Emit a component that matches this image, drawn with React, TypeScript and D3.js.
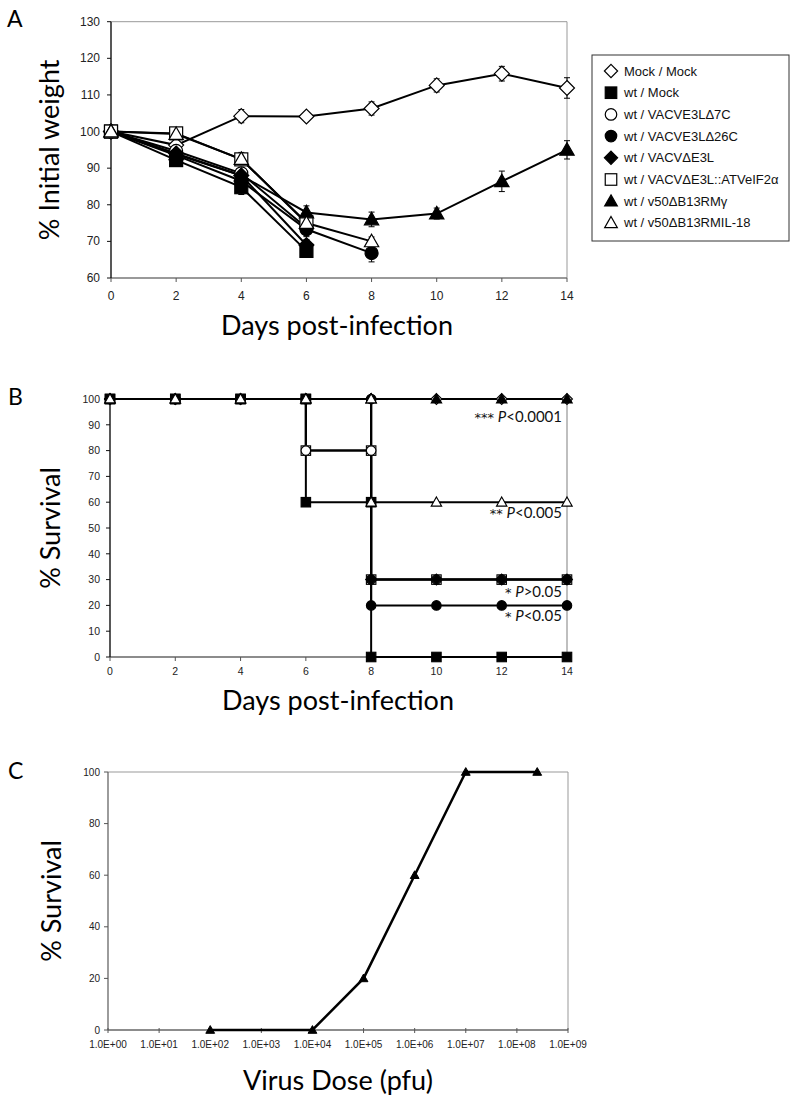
import React from "react";
import * as d3 from "d3";

// ---------- Data ----------
const DAYS = [0, 2, 4, 6, 8, 10, 12, 14];
const WEIGHT_TICKS = [60, 70, 80, 90, 100, 110, 120, 130];
const SURV_TICKS = [0, 10, 20, 30, 40, 50, 60, 70, 80, 90, 100];
const DOSE_TICKS = [1e0, 1e1, 1e2, 1e3, 1e4, 1e5, 1e6, 1e7, 1e8, 1e9];
const C_SURV_TICKS = [0, 20, 40, 60, 80, 100];

const SERIES_NAMES = [
  "Mock / Mock",
  "wt / Mock",
  "wt / VACVE3LΔ7C",
  "wt / VACVE3LΔ26C",
  "wt / VACVΔE3L",
  "wt / VACVΔE3L::ATVeIF2α",
  "wt / v50ΔB13RMγ",
  "wt / v50ΔB13RMIL-18",
];
const SERIES_SHAPES = ["diamond", "square", "circle", "circle", "diamond", "square", "triangle", "triangle"];
const SERIES_FILLED = [false, true, false, true, true, false, true, false];

// Panel A: % initial weight (mean) and error (SE), by day index
const mockW = [100, 96.3, 104.2, 104.1, 106.3, 112.6, 115.8, 111.9];
const mockWErr = [0, 1, 1.8, 1, 1.8, 1.8, 2, 2.8];
const wtMockW = [100, 92.2, 84.8, 67.4];
const wtMockWErr = [0, 1, 2, 1];
const e3l7cW = [100, 94.7, 88.6, 73.7];
const e3l7cWErr = [0, 1, 1.5, 1.5];
const e3l26cW = [100, 93.5, 86.5, 73.3, 66.8];
const e3l26cWErr = [0, 1, 1.5, 2, 2.4];
const dE3LW = [100, 94, 88, 69];
const dE3LWErr = [0, 1, 1.5, 1.5];
const atvW = [100, 99.5, 92.4, 75.2];
const atvWErr = [0, 1, 1.5, 1.5];
const rmgW = [100, 93.8, 88, 77.9, 76, 77.6, 86.4, 95];
const rmgWErr = [0, 1, 1.5, 1.8, 2, 1.5, 2.8, 2.5];
const il18W = [100, 99.3, 92.5, 75, 70];
const il18WErr = [0, 1, 1.8, 1.5, 1.2];

const WEIGHTS = [mockW, wtMockW, e3l7cW, e3l26cW, dE3LW, atvW, rmgW, il18W];
const WEIGHT_ERRS = [mockWErr, wtMockWErr, e3l7cWErr, e3l26cWErr, dE3LWErr, atvWErr, rmgWErr, il18WErr];

// Panel B: Kaplan-Meier survival steps
const mockSDays = [0, 2, 4, 6, 8, 10, 12, 14];
const mockS = [100, 100, 100, 100, 100, 100, 100, 100];
const wtMockSDays = [0, 2, 4, 6, 6, 8, 8, 10, 12, 14];
const wtMockS = [100, 100, 100, 100, 60, 60, 0, 0, 0, 0];
const e3l7cSDays = [0, 2, 4, 6, 6, 8, 8, 10, 12, 14];
const e3l7cS = [100, 100, 100, 100, 80, 80, 30, 30, 30, 30];
const e3l26cSDays = [0, 2, 4, 6, 8, 8, 10, 12, 14];
const e3l26cS = [100, 100, 100, 100, 100, 20, 20, 20, 20];
const dE3LSDays = [0, 2, 4, 6, 8, 8, 10, 12, 14];
const dE3LS = [100, 100, 100, 100, 100, 30, 30, 30, 30];
const atvSDays = [0, 2, 4, 6, 6, 8, 8, 10, 12, 14];
const atvS = [100, 100, 100, 100, 80, 80, 30, 30, 30, 30];
const rmgSDays = [0, 2, 4, 6, 8, 10, 12, 14];
const rmgS = [100, 100, 100, 100, 100, 100, 100, 100];
const il18SDays = [0, 2, 4, 6, 8, 8, 10, 12, 14];
const il18S = [100, 100, 100, 100, 100, 60, 60, 60, 60];

const SURV_DAYS = [mockSDays, wtMockSDays, e3l7cSDays, e3l26cSDays, dE3LSDays, atvSDays, rmgSDays, il18SDays];
const SURVS = [mockS, wtMockS, e3l7cS, e3l26cS, dE3LS, atvS, rmgS, il18S];
const B_DRAW_ORDER = [0, 5, 1, 2, 3, 4, 6, 7];

const P_LABELS = [
  { stars: "***", rel: "<0.0001" },
  { stars: "**", rel: "<0.005" },
  { stars: "*", rel: ">0.05" },
  { stars: "*", rel: "<0.05" },
];

// Panel C: dose response
const doses = [1e2, 1e4, 1e5, 1e6, 1e7, 2.5e8];
const doseSurv = [0, 0, 20, 60, 100, 100];

// ---------- Helpers ----------
const TITLE_FONT = "Lato, 'Open Sans', sans-serif";
const TICK_FONT = "'Liberation Sans', Arial, Helvetica, sans-serif";

function Marker({ shape, filled, x, y, s, sw = 1.2 }: any) {
  const h = s / 2;
  const fill = filled ? "#000" : "#fff";
  const common = { fill, stroke: "#000", strokeWidth: sw };
  if (shape === "square") return <rect x={x - h} y={y - h} width={s} height={s} {...common} />;
  if (shape === "circle") return <circle cx={x} cy={y} r={h} {...common} />;
  if (shape === "diamond") {
    const k = h * 1.15;
    return <path d={`M${x},${y - k}L${x + k},${y}L${x},${y + k}L${x - k},${y}Z`} {...common} />;
  }
  const k = h * 1.1;
  return <path d={`M${x},${y - k}L${x + k},${y + k * 0.75}L${x - k},${y + k * 0.75}Z`} {...common} />;
}

const fmtExp = (v: number) => {
  const e = Math.round(Math.log10(v));
  return `1.0E+${e < 10 ? "0" + e : e}`;
};

export default function App() {
  // Panel A scales
  const xA = d3.scaleLinear().domain([0, 14]).range([111, 567]);
  const yA = d3.scaleLinear().domain([60, 130]).range([278, 21.7]);
  // Panel B scales
  const xB = d3.scaleLinear().domain([0, 14]).range([110, 567]);
  const yB = d3.scaleLinear().domain([0, 100]).range([657, 399]);
  // Panel C scales
  const xC = d3.scaleLog().domain([1, 1e9]).range([108, 568]);
  const yC = d3.scaleLinear().domain([0, 100]).range([1030, 772]);

  const lineA = d3.line<[number, number]>().x((d) => xA(d[0])).y((d) => yA(d[1]));
  const lineB = d3.line<[number, number]>().x((d) => xB(d[0])).y((d) => yB(d[1]));
  const lineC = d3.line<[number, number]>().x((d) => xC(d[0])).y((d) => yC(d[1]));

  const legendX = 592, legendY = 55, legendW = 197, legendH = 186, rowH = 21.7;

  return (
    <svg
      width={797}
      height={1102}
      style={{ position: "absolute", left: 0, top: 0, background: "#fff" }}
      xmlns="http://www.w3.org/2000/svg"
    >
      <rect x={0} y={0} width={797} height={1102} fill="#fff" />

      {/* ================= Panel A ================= */}
      <text x={7} y={27} fontFamily={TITLE_FONT} fontSize={23}>A</text>
      <line x1={xA(0)} x2={xA(14)} y1={yA(130)} y2={yA(130)} stroke="#999" strokeWidth={1} />
      <line x1={xA(14)} x2={xA(14)} y1={yA(130)} y2={yA(60)} stroke="#999" strokeWidth={1} />
      <line x1={xA(0)} x2={xA(14)} y1={yA(60)} y2={yA(60)} stroke="#777" strokeWidth={1.6} />
      <line x1={xA(0)} x2={xA(0)} y1={yA(130)} y2={yA(60)} stroke="#111" strokeWidth={1.4} />
      {WEIGHT_TICKS.map((t) => (
        <g key={"ay" + t}>
          <line x1={xA(0) - 4} x2={xA(0)} y1={yA(t)} y2={yA(t)} stroke="#111" strokeWidth={1} />
          <text x={100} y={yA(t) + 4} textAnchor="end" fontFamily={TICK_FONT} fontSize={12} fill="#222">{t}</text>
        </g>
      ))}
      {DAYS.map((t) => (
        <g key={"ax" + t}>
          <line x1={xA(t)} x2={xA(t)} y1={yA(60)} y2={yA(60) + 4} stroke="#555" strokeWidth={1} />
          <text x={xA(t)} y={300} textAnchor="middle" fontFamily={TICK_FONT} fontSize={12} fill="#222">{t}</text>
        </g>
      ))}
      <text x={337} y={335} textAnchor="middle" fontFamily={TITLE_FONT} fontSize={27}>Days post-infection</text>
      <text transform={`translate(59,${(yA(60) + yA(130)) / 2}) rotate(-90)`} textAnchor="middle" fontFamily={TITLE_FONT} fontSize={27}>% Initial weight</text>

      {WEIGHTS.map((w, i) => (
        <path key={"al" + i} d={lineA(w.map((v, j) => [DAYS[j], v]) as any) || ""} fill="none" stroke="#000" strokeWidth={2} />
      ))}
      {WEIGHTS.map((w, i) =>
        w.map((v, j) => {
          const e = WEIGHT_ERRS[i][j];
          if (!e) return null;
          const x = xA(DAYS[j]);
          return (
            <g key={`ae${i}-${j}`} stroke="#000" strokeWidth={1}>
              <line x1={x} x2={x} y1={yA(v - e)} y2={yA(v + e)} />
              <line x1={x - 3} x2={x + 3} y1={yA(v - e)} y2={yA(v - e)} />
              <line x1={x - 3} x2={x + 3} y1={yA(v + e)} y2={yA(v + e)} />
            </g>
          );
        })
      )}
      {WEIGHTS.map((w, i) =>
        w.map((v, j) => (
          <Marker key={`am${i}-${j}`} shape={SERIES_SHAPES[i]} filled={SERIES_FILLED[i]} x={xA(DAYS[j])} y={yA(v)} s={13} />
        ))
      )}

      {/* legend */}
      <rect x={legendX} y={legendY} width={legendW} height={legendH} fill="#fff" stroke="#333" strokeWidth={1} />
      {SERIES_NAMES.map((n, i) => (
        <g key={"lg" + i}>
          <Marker shape={SERIES_SHAPES[i]} filled={SERIES_FILLED[i]} x={legendX + 19} y={legendY + 16 + i * rowH} s={11.5} />
          <text x={legendX + 32} y={legendY + 16 + i * rowH + 4.5} fontFamily={TICK_FONT} fontSize={13} fill="#111">{n}</text>
        </g>
      ))}

      {/* ================= Panel B ================= */}
      <text x={8} y={405} fontFamily={TITLE_FONT} fontSize={23}>B</text>
      <line x1={xB(14)} x2={xB(14)} y1={yB(100)} y2={yB(0)} stroke="#aaa" strokeWidth={1.5} />
      <line x1={xB(0)} x2={xB(14)} y1={yB(0)} y2={yB(0)} stroke="#666" strokeWidth={1.5} />
      <line x1={xB(0)} x2={xB(0)} y1={yB(100)} y2={yB(0)} stroke="#111" strokeWidth={1.4} />
      {SURV_TICKS.map((t) => (
        <g key={"by" + t}>
          <line x1={xB(0) - 4} x2={xB(0)} y1={yB(t)} y2={yB(t)} stroke="#111" strokeWidth={1} />
          <text x={100} y={yB(t) + 3.7} textAnchor="end" fontFamily={TICK_FONT} fontSize={10.5} fill="#222">{t}</text>
        </g>
      ))}
      {DAYS.map((t) => (
        <g key={"bx" + t}>
          <line x1={xB(t)} x2={xB(t)} y1={yB(0)} y2={yB(0) + 4} stroke="#555" strokeWidth={1} />
          <text x={xB(t)} y={675} textAnchor="middle" fontFamily={TICK_FONT} fontSize={10.5} fill="#222">{t}</text>
        </g>
      ))}
      <text x={338} y={710} textAnchor="middle" fontFamily={TITLE_FONT} fontSize={27}>Days post-infection</text>
      <text transform={`translate(60,${(yB(0) + yB(100)) / 2}) rotate(-90)`} textAnchor="middle" fontFamily={TITLE_FONT} fontSize={27}>% Survival</text>

      {SURVS.map((s, i) => (
        <path key={"bl" + i} d={lineB(s.map((v, j) => [SURV_DAYS[i][j], v]) as any) || ""} fill="none" stroke="#000" strokeWidth={2} />
      ))}
      {B_DRAW_ORDER.map((i) =>
        SURVS[i].map((v, j) => (
          <Marker key={`bm${i}-${j}`} shape={SERIES_SHAPES[i]} filled={SERIES_FILLED[i]} x={xB(SURV_DAYS[i][j])} y={yB(v)} s={9.5} sw={1.1} />
        ))
      )}
      {P_LABELS.map((p, i) => (
        <text key={"p" + i} x={562} y={[421.5, 518, 597, 621][i]} textAnchor="end" fontFamily={TITLE_FONT} fontSize={15} fill="#111">
          <tspan fontFamily="'DejaVu Sans', sans-serif" fontSize={13}>{p.stars}</tspan>
          {" "}
          <tspan fontStyle="italic">P</tspan>
          {p.rel}
        </text>
      ))}

      {/* ================= Panel C ================= */}
      <text x={8} y={779} fontFamily={TITLE_FONT} fontSize={23}>C</text>
      <line x1={xC(1)} x2={xC(1e9)} y1={yC(100)} y2={yC(100)} stroke="#999" strokeWidth={1} />
      <line x1={xC(1e9)} x2={xC(1e9)} y1={yC(100)} y2={yC(0)} stroke="#999" strokeWidth={1} />
      <line x1={xC(1)} x2={xC(1e9)} y1={yC(0)} y2={yC(0)} stroke="#666" strokeWidth={1.3} />
      <line x1={xC(1)} x2={xC(1)} y1={yC(100)} y2={yC(0)} stroke="#666" strokeWidth={1.3} />
      {C_SURV_TICKS.map((t) => (
        <g key={"cy" + t}>
          <line x1={xC(1) - 4} x2={xC(1)} y1={yC(t)} y2={yC(t)} stroke="#555" strokeWidth={1} />
          <text x={100} y={yC(t) + 3.5} textAnchor="end" fontFamily={TICK_FONT} fontSize={10} fill="#222">{t}</text>
        </g>
      ))}
      {DOSE_TICKS.map((t) => (
        <g key={"cx" + t}>
          <line x1={xC(t)} x2={xC(t)} y1={yC(0) - 2} y2={yC(0) + 3} stroke="#555" strokeWidth={1} />
          <text x={xC(t)} y={1047.5} textAnchor="middle" fontFamily={TICK_FONT} fontSize={10} fill="#222">{fmtExp(t)}</text>
        </g>
      ))}
      <text x={338} y={1090} textAnchor="middle" fontFamily={TITLE_FONT} fontSize={27}>Virus Dose (pfu)</text>
      <text transform={`translate(61,${(yC(0) + yC(100)) / 2}) rotate(-90)`} textAnchor="middle" fontFamily={TITLE_FONT} fontSize={27}>% Survival</text>
      <path d={lineC(doses.map((d, j) => [d, doseSurv[j]]) as any) || ""} fill="none" stroke="#000" strokeWidth={2.5} />
      {doses.map((d, j) => (
        <Marker key={"cm" + j} shape="triangle" filled x={xC(d)} y={yC(doseSurv[j])} s={8} sw={1} />
      ))}
    </svg>
  );
}
